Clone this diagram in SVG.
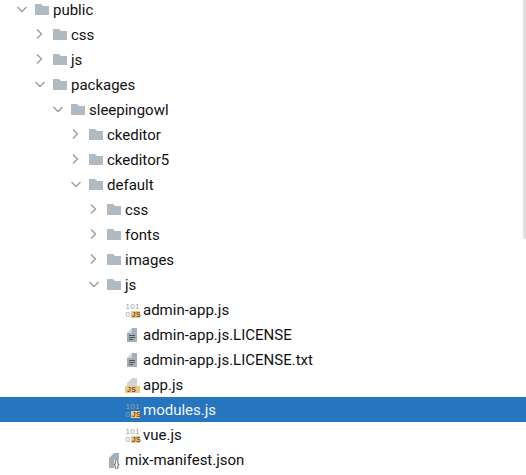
<svg xmlns="http://www.w3.org/2000/svg" width="526" height="475" viewBox="0 0 526 475">
<style>
text{font-family:Roboto,"Liberation Sans",sans-serif;font-size:15px;fill:#111}
.ch{fill:none;stroke:#9a9da0;stroke-width:1.4}
.f{fill:#afbac2}
.g{fill:#a3aeb6}
.gl{fill:#cdd3d8}
.o{fill:#f6c67f}
.jt{font-family:"Liberation Sans",sans-serif;font-size:7px;font-weight:700;letter-spacing:.3px;fill:#6a5632}
.b{font-family:"Liberation Sans",sans-serif;font-size:8px;letter-spacing:.3px;fill:#9aa3aa}
.s .b{fill:#a9c6e0}
.s .o{fill:#c7a567}
.s .jt{fill:#3a2f1c}
</style>
<defs>
<path id="down" class="ch" d="M-4.500-2L0 2.500L4.500-2"/>
<path id="right" class="ch" d="M-2-4.500L2.500 0L-2 4.500"/>
<path id="folder" class="f" d="M-7-5H-1L1-3H7V6H-7Z"/>
<g id="binjs">
<text class="b" x="-7.500" y="0">101</text>
<text class="b" x="-7.500" y="8">0</text>
<rect class="o" x="-2" y="2" width="9" height="7"/>
<text class="jt" x="-1.200" y="8">JS</text>
</g>
<g id="txt">
<path class="g" d="M-5-2H0V-7H5V7H-5Z"/>
<path class="gl" d="M0-7L-5-2H0Z"/>
<path d="M-3 0.500H3M-3 2.500H3M-3 4.500H1" stroke="#50575c" stroke-width="1" fill="none"/>
</g>
</defs>
<rect width="526" height="475" fill="#fff"/>
<rect id="selection" x="0" y="397" width="526" height="25" fill="#2675bf"/>
<rect id="scrollbar" x="523" y="0" width="3" height="239" fill="#e0e0e0"/>
<g id="connectors">
<use href="#down" x="22" y="9"/>
<use href="#right" x="39" y="34"/>
<use href="#right" x="39" y="59"/>
<use href="#down" x="40" y="84"/>
<use href="#down" x="58" y="109"/>
<use href="#right" x="75" y="134"/>
<use href="#right" x="75" y="159"/>
<use href="#down" x="76" y="184"/>
<use href="#right" x="93" y="209"/>
<use href="#right" x="93" y="234"/>
<use href="#right" x="93" y="259"/>
<use href="#down" x="94" y="284"/>
</g>
<g id="public"><use href="#folder" x="42" y="9"/><text x="53" y="15">public</text></g>
<g id="css"><use href="#folder" x="60" y="34"/><text x="71" y="40">css</text></g>
<g id="js"><use href="#folder" x="60" y="59"/><text x="71" y="65">js</text></g>
<g id="packages"><use href="#folder" x="60" y="84"/><text x="71" y="90">packages</text></g>
<g id="sleepingowl"><use href="#folder" x="78" y="109"/><text x="89" y="115">sleepingowl</text></g>
<g id="ckeditor"><use href="#folder" x="96" y="134"/><text x="107" y="140">ckeditor</text></g>
<g id="ckeditor5"><use href="#folder" x="96" y="159"/><text x="107" y="165">ckeditor5</text></g>
<g id="default"><use href="#folder" x="96" y="184"/><text x="107" y="190">default</text></g>
<g id="default-css"><use href="#folder" x="114" y="209"/><text x="125" y="215">css</text></g>
<g id="fonts"><use href="#folder" x="114" y="234"/><text x="125" y="240">fonts</text></g>
<g id="images"><use href="#folder" x="114" y="259"/><text x="125" y="265">images</text></g>
<g id="default-js"><use href="#folder" x="114" y="284"/><text x="125" y="290">js</text></g>
<g id="admin-app"><use href="#binjs" x="133" y="309"/><text x="143" y="315">admin-app.js</text></g>
<g id="license"><use href="#txt" x="132" y="335"/><text x="143" y="340">admin-app.js.LICENSE</text></g>
<g id="license-txt"><use href="#txt" x="132" y="360"/><text x="143" y="365">admin-app.js.LICENSE.txt</text></g>
<g id="app"><path class="gl" d="M132 378H137V386H127V383Z"/><rect class="o" x="125" y="386" width="15" height="7"/><text class="jt" x="127" y="392">JS</text><text x="143" y="390">app.js</text></g>
<g id="modules" class="s"><use href="#binjs" x="133" y="409"/><text x="143" y="415" style="fill:#f2f7fc">modules.js</text></g>
<g id="vue"><use href="#binjs" x="133" y="434"/><text x="143" y="440">vue.js</text></g>
<g id="manifest"><path class="g" d="M114 453H119V460H114V468H109V458Z"/><text x="113.500" y="467" style="font-size:9px;fill:#3f4548">{}</text><text x="125" y="465">mix-manifest.json</text></g>
</svg>
